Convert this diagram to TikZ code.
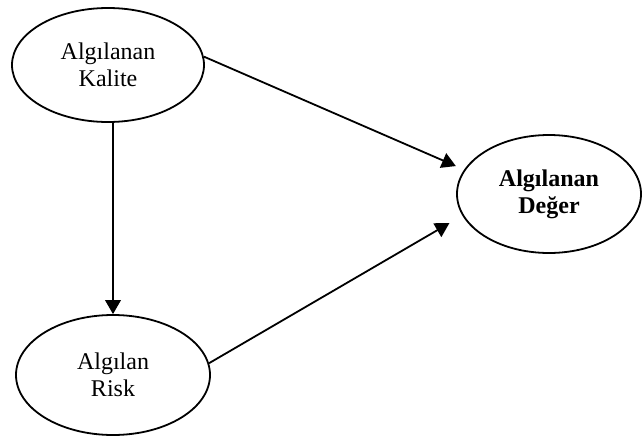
\documentclass[tikz,border=0pt]{standalone}
\usepackage{fontspec}
\setmainfont{Liberation Serif}
\usetikzlibrary{shapes.geometric,arrows.meta}
\begin{document}
\begin{tikzpicture}[x=0.5pt,y=-0.5pt,
  construct/.style={ellipse,draw,line width=0.9pt,inner sep=0pt,align=center,
    font=\fontsize{12}{13.5}\selectfont},
  arr/.style={line width=0.9pt,-{Triangle[length=7pt,width=7.8pt]}}]
\useasboundingbox (0,0) rectangle (642,439);
\node[construct,minimum width=96pt,minimum height=57pt] (kalite) at (108,65) {Algılanan\\Kalite};
\node[construct,minimum width=97pt,minimum height=60pt] (risk) at (113,375) {Algılan\\Risk};
\node[construct,minimum width=92pt,minimum height=59pt,font=\fontsize{12}{13.5}\selectfont\bfseries] (deger) at (549,194) {Algılanan\\Değer};
\draw[arr] (kalite.south -| risk.north) -- (risk.north);
\draw[arr,shorten >=4.5pt] (kalite.5) -- (deger.164);
\draw[arr,shorten >=7.5pt] (risk.7) -- (deger.194.6);
\end{tikzpicture}
\end{document}
